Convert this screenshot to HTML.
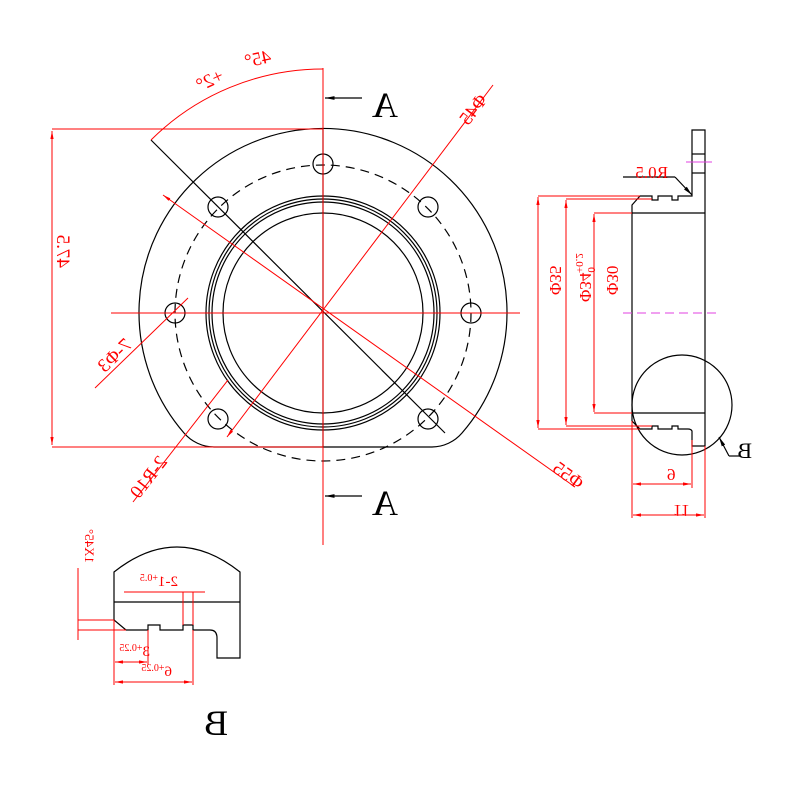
<!DOCTYPE html>
<html><head><meta charset="utf-8"><style>body{margin:0;background:#fff}svg{display:block}</style></head>
<body>
<svg width="800" height="800" viewBox="0 0 800 800" xmlns="http://www.w3.org/2000/svg" font-family="Liberation Serif, serif">
<defs>
<marker id="ar" viewBox="0 0 10 10" refX="10" refY="5" markerWidth="8" markerHeight="8" orient="auto-start-reverse"><path d="M0,3 L10,5 L0,7z" fill="red"/></marker>
<marker id="ak" viewBox="0 0 10 10" refX="10" refY="5" markerWidth="8" markerHeight="8" orient="auto-start-reverse"><path d="M0,3 L10,5 L0,7z" fill="#000"/></marker>
</defs>
<g fill="none" stroke="#000" stroke-width="1.2">
<path d="M184,433 A184,184 0 1 1 462,433 A40,40 0 0 1 432,447 L214,447 A40,40 0 0 1 184,433 Z"/>
<circle cx="323" cy="313" r="148" stroke-dasharray="9,6"/>
<circle cx="323" cy="313" r="117"/><circle cx="323" cy="313" r="114"/><circle cx="323" cy="313" r="111"/><circle cx="323" cy="313" r="100"/>
<circle cx="323" cy="164" r="10"/><circle cx="175" cy="313" r="10"/><circle cx="471" cy="313" r="10"/>
<circle cx="218" cy="207" r="10"/><circle cx="428" cy="207" r="10"/><circle cx="218" cy="419" r="10"/><circle cx="428" cy="419" r="10"/>
<line x1="151" y1="140" x2="445" y2="433"/>
<line x1="323" y1="129" x2="323" y2="447"/>
<path d="M632,205 L640,196 L652,196 L652,200 L658,200 L658,196 L672,196 L672,200 L678,200 L678,196 L692,196 L692,130 L705,130 L705,446 L692,446 L692,431 Q691,429 688,429 L678,429 L678,426 L672,426 L672,429 L658,429 L658,426 L652,426 L652,429 L640,429 L632,421 Z"/>
<line x1="692" y1="154" x2="705" y2="154"/><line x1="692" y1="173" x2="705" y2="173"/>
<line x1="632" y1="213" x2="705" y2="213"/><line x1="632" y1="413" x2="705" y2="413"/>
<circle cx="682" cy="405" r="50"/>
<path d="M729,456 L740,456"/><line x1="729" y1="456" x2="719" y2="437" marker-end="url(#ak)"/>
<path d="M623,177 L675,177"/><line x1="675" y1="177" x2="692" y2="195" marker-end="url(#ak)"/>
<path d="M114,572 Q177,522 240,572 L240,658 L217,658 L217,638 Q217,630 210,630 L193,630 L193,625 L183,625 L183,630 L160,630 L160,625 L148,625 L148,630 L126,630 L114,620 Z"/>
<line x1="114" y1="602" x2="240" y2="602"/>
<line x1="362" y1="98" x2="325" y2="98" marker-end="url(#ak)"/>
<line x1="362" y1="496" x2="325" y2="496" marker-end="url(#ak)"/>
</g>
<g fill="none" stroke="red" stroke-width="1">
<line x1="323" y1="68" x2="323" y2="545"/>
<line x1="111" y1="313" x2="520" y2="313"/>
<line x1="493" y1="85" x2="227" y2="437" marker-end="url(#ar)"/>
<line x1="228" y1="380" x2="133" y2="502"/>
<line x1="163" y1="195" x2="575" y2="487" marker-start="url(#ar)"/>
<path d="M323,69 A244,244 0 0 0 151,140"/>
<line x1="52" y1="129" x2="323" y2="129"/><line x1="52" y1="447" x2="323" y2="447"/>
<line x1="52" y1="131" x2="52" y2="445" marker-start="url(#ar)" marker-end="url(#ar)"/>
<line x1="188" y1="298" x2="95" y2="388"/>
<line x1="538" y1="196" x2="640" y2="196"/><line x1="538" y1="429" x2="640" y2="429"/>
<line x1="566" y1="199" x2="652" y2="199"/><line x1="566" y1="426" x2="652" y2="426"/>
<line x1="594" y1="213" x2="632" y2="213"/><line x1="594" y1="413" x2="632" y2="413"/>
<line x1="538" y1="197" x2="538" y2="428" marker-start="url(#ar)" marker-end="url(#ar)"/>
<line x1="566" y1="200" x2="566" y2="425" marker-start="url(#ar)" marker-end="url(#ar)"/>
<line x1="594" y1="214" x2="594" y2="412" marker-start="url(#ar)" marker-end="url(#ar)"/>
<line x1="632" y1="421" x2="632" y2="518"/><line x1="692" y1="440" x2="692" y2="488"/><line x1="705" y1="446" x2="705" y2="518"/>
<line x1="633" y1="484" x2="691" y2="484" marker-start="url(#ar)" marker-end="url(#ar)"/>
<line x1="633" y1="515" x2="704" y2="515" marker-start="url(#ar)" marker-end="url(#ar)"/>
<line x1="78" y1="620" x2="114" y2="620"/><line x1="78" y1="630" x2="126" y2="630"/>
<line x1="78" y1="568" x2="78" y2="640"/>
<line x1="124" y1="592" x2="205" y2="592"/>
<line x1="183" y1="592" x2="183" y2="625"/><line x1="193" y1="592" x2="193" y2="625"/>
<line x1="114" y1="620" x2="114" y2="685"/><line x1="148" y1="630" x2="148" y2="665"/><line x1="193" y1="630" x2="193" y2="685"/>
<line x1="115" y1="662" x2="147" y2="662" marker-start="url(#ar)" marker-end="url(#ar)"/>
<line x1="115" y1="682" x2="192" y2="682" marker-start="url(#ar)" marker-end="url(#ar)"/>
</g>
<line x1="686" y1="162" x2="712" y2="162" stroke="#e040e0" stroke-width="1"/>
<line x1="623" y1="313" x2="720" y2="313" stroke="#e040e0" stroke-width="1" stroke-dasharray="9,5"/>
<g fill="red" font-size="19">
<text transform="translate(272,62) scale(-1,1) rotate(12)">45°</text>
<text transform="translate(225,80) scale(-1,1) rotate(25)">+2°</text>
<text transform="translate(488,100) scale(-1,1) rotate(53)">Φ45</text>
<text transform="translate(57,268) scale(-1,1) rotate(-90)">47.5</text>
<text transform="translate(133,346) scale(-1,1) rotate(44)">7-Φ3</text>
<text transform="translate(168,462) scale(-1,1) rotate(52)">2-R10</text>
<text transform="translate(578,490) scale(-1,1) rotate(-36)">Φ55</text>
<text transform="translate(550,295) scale(-1,1) rotate(-90)" font-size="17">Φ35</text>
<text transform="translate(580,302) scale(-1,1) rotate(-90)" font-size="17">Φ34<tspan font-size="11" dy="-8">0</tspan><tspan font-size="11" dx="-6" dy="12">+0.2</tspan></text>
<text transform="translate(607,295) scale(-1,1) rotate(-90)" font-size="17">Φ30</text>
<text transform="translate(667,469) scale(-1,1) rotate(180)" font-size="17">9</text>
<text transform="translate(673,505) scale(-1,1) rotate(180)" font-size="17">11</text>
<text transform="translate(668,178) scale(-1,1)" font-size="17">R0.5</text>
<text transform="translate(85,563) scale(-1,1) rotate(-90)" font-size="13">1X45°</text>
<text transform="translate(178,586) scale(-1,1)" font-size="15">2-1<tspan font-size="10" dy="-5">+0.5</tspan></text>
<text transform="translate(150,656) scale(-1,1)" font-size="15">3<tspan font-size="10" dy="-5">+0.25</tspan></text>
<text transform="translate(172,676) scale(-1,1)" font-size="15">6<tspan font-size="10" dy="-5">+0.25</tspan></text>
</g>
<g fill="#000" font-size="36">
<text transform="translate(398,117) scale(-1,1)">A</text>
<text transform="translate(398,515) scale(-1,1)">A</text>
<text transform="translate(228,735) scale(-1,1)">B</text>
<text transform="translate(752,458) scale(-1,1)" font-size="22">B</text>
</g>
</svg>
</body></html>
